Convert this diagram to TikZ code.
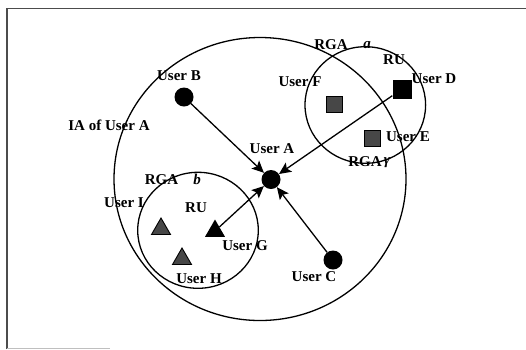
\documentclass[tikz,border=0pt]{standalone}
\usepackage{fontspec}
\setmainfont{Liberation Serif}
\usetikzlibrary{arrows.meta,shapes.geometric}
\begin{document}
\begin{tikzpicture}[x=1pt,y=-1pt,
  lbl/.style={font=\bfseries\fontsize{15}{17}\selectfont, inner sep=0pt},
  ilbl/.style={font=\bfseries\itshape\fontsize{15}{17}\selectfont, inner sep=0pt},
  area/.style={ellipse, draw, line width=1.3pt, inner sep=0pt},
  user/.style={circle, fill=black, minimum size=19pt, inner sep=0pt},
  blacksq/.style={rectangle, fill=black, minimum size=19pt, inner sep=0pt},
  graysq/.style={rectangle, draw=black, line width=0.9pt, fill=black!72, minimum size=16pt, inner sep=0pt},
  blacktri/.style={regular polygon, regular polygon sides=3, fill=black, minimum size=23pt, inner sep=0pt},
  graytri/.style={regular polygon, regular polygon sides=3, draw=black, line width=0.9pt, fill=black!72, minimum size=22pt, inner sep=0pt},
  arr/.style={line width=1.3pt, -{Stealth[length=12pt,width=11pt,inset=2.5pt]}}]
\useasboundingbox (0,0) rectangle (526,349);
% frame
\draw[black!70, line width=1.8pt] (7,349) -- (7,8.5) -- (526,8.5);
\draw[black!25, line width=1pt] (7,348) -- (110,348);

% areas
\node[area, minimum width=292pt, minimum height=283pt] (IA) at (260,179) {};
\node[area, minimum width=120.6pt, minimum height=116.6pt] (RGAa) at (365.3,105) {};
\node[area, minimum width=120.6pt, minimum height=116pt] (RGAb) at (198,230.3) {};

% users
\node[user] (A) at (271,179.5) {};
\node[user] (B) at (184,97) {};
\node[user] (C) at (333,260) {};
\node[blacksq] (D) at (402,89) {};
\node[graysq] (F) at (334,104) {};
\node[graysq] (E) at (372,138) {};
\node[blacktri] (G) at (215,231) {};
\node[graytri] (I) at (161,229) {};
\node[graytri] (H) at (182,259) {};

% links towards User A
\draw[arr] (B) -- (A);
\draw[arr] (C) -- (A);
\draw[arr] (D) -- (A);
\draw[arr] (G) -- (A);

% labels
\node[lbl] (lA) at (272,149) {User A};
\node[lbl] (lB) at (179,76) {User B};
\node[lbl] (lC) at (314,277) {User C};
\node[lbl] (lD) at (434,79) {User D};
\node[lbl] (lE) at (408,137) {User E};
\node[lbl] (lF) at (300,81.5) {User F};
\node[lbl] (lG) at (245,246) {User G};
\node[lbl] (lH) at (199,279) {User H};
\node[lbl] (lI) at (124,203) {User I};
\node[lbl] (lIA) at (109,125) {IA of User A};
\node[lbl] (ga) at (331,45) {RGA};
\node[ilbl] (gaL) at (367,45) {a};
\node[lbl] (ru1) at (394,60) {RU};
\node[lbl] (gg) at (365,162) {RGA};
\node[ilbl] (ggL) at (387,163) {γ};
\node[lbl] (gb) at (161.5,180) {RGA};
\node[ilbl] (gbL) at (197,179) {b};
\node[lbl] (ru2) at (196,208) {RU};
\end{tikzpicture}
\end{document}
